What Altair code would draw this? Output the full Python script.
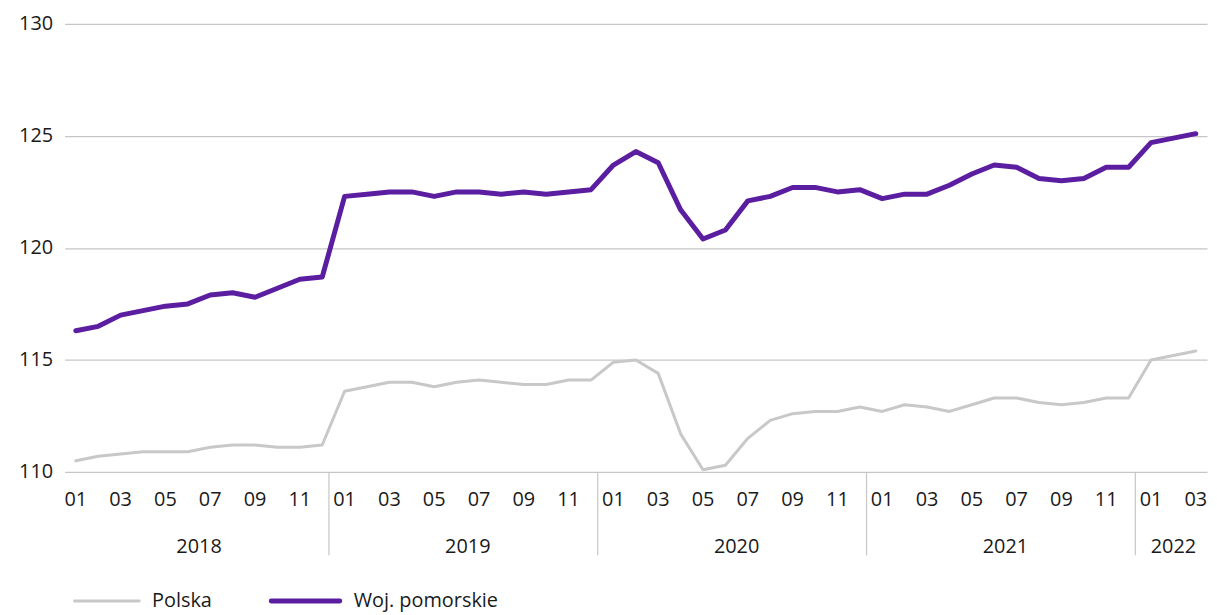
import altair as alt
import pandas as pd

months = [f"{y}-{m:02d}" for y in range(2018, 2023) for m in range(1, 13)][:51]
polska = [110.5, 110.7, 110.8, 110.9, 110.9, 110.9, 111.1, 111.2, 111.2, 111.1, 111.1, 111.2,
          113.6, 113.8, 114.0, 114.0, 113.8, 114.0, 114.1, 114.0, 113.9, 113.9, 114.1, 114.1,
          114.9, 115.0, 114.4, 111.7, 110.1, 110.3, 111.5, 112.3, 112.6, 112.7, 112.7, 112.9,
          112.7, 113.0, 112.9, 112.7, 113.0, 113.3, 113.3, 113.1, 113.0, 113.1, 113.3, 113.3,
          115.0, 115.2, 115.4]
pomorskie = [116.3, 116.5, 117.0, 117.2, 117.4, 117.5, 117.9, 118.0, 117.8, 118.2, 118.6, 118.7,
             122.3, 122.4, 122.5, 122.5, 122.3, 122.5, 122.5, 122.4, 122.5, 122.4, 122.5, 122.6,
             123.7, 124.3, 123.8, 121.7, 120.4, 120.8, 122.1, 122.3, 122.7, 122.7, 122.5, 122.6,
             122.2, 122.4, 122.4, 122.8, 123.3, 123.7, 123.6, 123.1, 123.0, 123.1, 123.6, 123.6,
             124.7, 124.9, 125.1]
series_names = ["Polska", "Woj. pomorskie"]
series_colors = ["#c8c8c8", "#5b1ea0"]
years = ["2018", "2019", "2020", "2021", "2022"]
y_ticks = [110, 115, 120, 125, 130]

FONT = "Open Sans"
TXT = "#1a1a1a"
FS = 20
W, H = 1150, 451

rows = []
for i, m in enumerate(months):
    rows.append({"idx": i, "series": series_names[0], "value": polska[i]})
    rows.append({"idx": i, "series": series_names[1], "value": pomorskie[i]})
df = pd.DataFrame(rows)

xscale = alt.Scale(domain=[-0.5, 50.5], nice=False, zero=False)
yscale = alt.Scale(domain=[110, 130], nice=False, zero=False)

lines = alt.Chart(df).mark_line(strokeJoin="round", strokeCap="round").encode(
    x=alt.X("idx:Q", scale=xscale, axis=None),
    y=alt.Y("value:Q", scale=yscale,
            axis=alt.Axis(values=y_ticks, title=None, domain=False, ticks=False,
                          grid=True, gridColor="#c6c6c6", gridWidth=1.2,
                          labelFontSize=FS, labelFont=FONT, labelColor=TXT,
                          labelPadding=12)),
    color=alt.Color("series:N", scale=alt.Scale(domain=series_names, range=series_colors), legend=None),
    strokeWidth=alt.StrokeWidth("series:N", scale=alt.Scale(domain=series_names, range=[3, 5]), legend=None),
)

# month labels (odd months)
mdf = pd.DataFrame([{"idx": i, "label": m[5:]} for i, m in enumerate(months) if int(m[5:]) % 2 == 1])
month_text = alt.Chart(mdf).mark_text(font=FONT, fontSize=FS, color=TXT, baseline="middle").encode(
    x=alt.X("idx:Q", scale=xscale), y=alt.value(H + 28), text="label:N")

# year labels
ydf = []
for yr in years:
    idxs = [i for i, m in enumerate(months) if m.startswith(yr)]
    ydf.append({"idx": (idxs[0] + idxs[-1]) / 2, "year": yr})
ydf = pd.DataFrame(ydf)
year_text = alt.Chart(ydf).mark_text(font=FONT, fontSize=FS, color=TXT, baseline="middle").encode(
    x=alt.X("idx:Q", scale=xscale), y=alt.value(H + 76), text="year:N")

# year separators
sdf = pd.DataFrame({"idx": [i - 0.7 for i, m in enumerate(months) if m.endswith("-01") and i > 0]})
seps = alt.Chart(sdf).mark_rule(color="#c6c6c6", strokeWidth=1.2).encode(
    x=alt.X("idx:Q", scale=xscale), y=alt.value(H), y2=alt.value(H + 84))

# legend
leg_y = 581
legend_layers = []
leg_pos = [(10, 75, 88), (208, 277, 291)]
for name, col, sw, (x1, x2, tx) in zip(series_names, series_colors, [3, 5], leg_pos):
    ldf = pd.DataFrame({"name": [name]})
    legend_layers.append(alt.Chart(ldf).mark_rule(color=col, strokeWidth=sw, strokeCap="round").encode(
        x=alt.value(x1), x2=alt.value(x2), y=alt.value(leg_y)))
    legend_layers.append(alt.Chart(ldf).mark_text(font=FONT, fontSize=FS, color=TXT, align="left",
                                                   baseline="middle").encode(
        x=alt.value(tx), y=alt.value(leg_y), text="name:N"))

chart = alt.layer(lines, month_text, year_text, seps, *legend_layers).properties(
    width=W, height=H,
    background="white",
    autosize=alt.AutoSizeParams(type="none"),
    padding={"left": 57, "top": 14, "right": 2, "bottom": 140},
).configure_view(stroke=None, strokeWidth=0)

chart.save("out.html", embed_options={"renderer": "svg", "actions": False})
